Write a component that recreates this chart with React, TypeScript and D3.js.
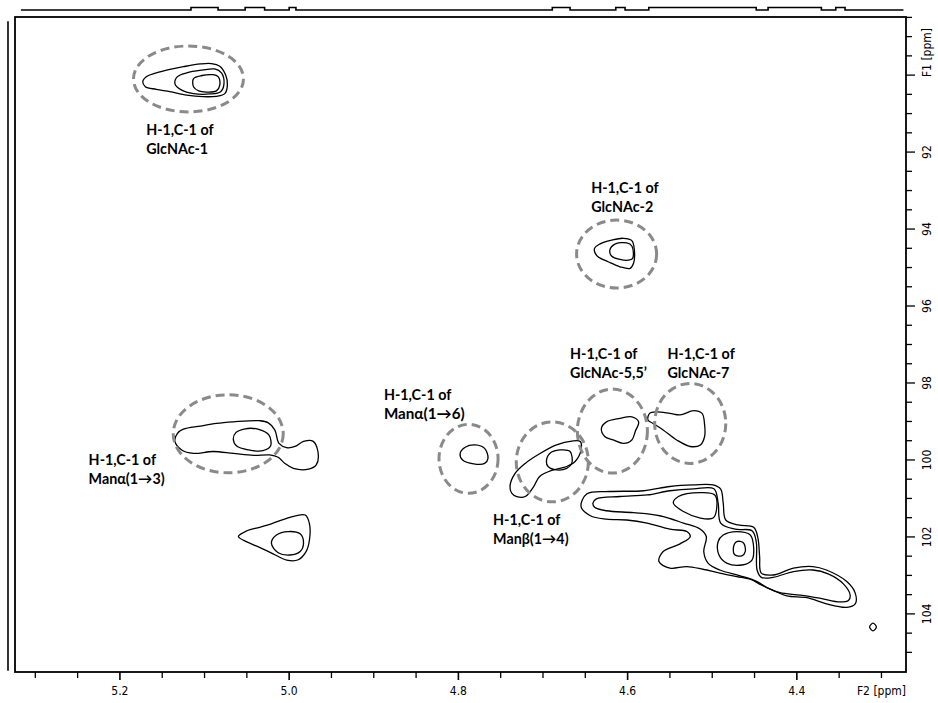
import React from "react";
import * as d3 from "d3";

const W = 938;
const H = 703;

// ---------- axis data ----------
const f2TickValues = d3.range(0, 21).map((i) => +(5.3 - i * 0.05).toFixed(2));
const f2LabelValues = [5.2, 5.0, 4.8, 4.6, 4.4];
const f2LabelTexts = ["5.2", "5.0", "4.8", "4.6", "4.4"];
const f2AxisTitle = "F2 [ppm]";
const f2AxisTitlePos = 4.3;
const f1TickValues = d3.range(0, 34).map((i) => 88.5 + i * 0.5);
const f1LabelValues = [92, 94, 96, 98, 100, 102, 104];
const f1LabelTexts = ["92", "94", "96", "98", "100", "102", "104"];
const f1AxisTitle = "F1 [ppm]";
const f1AxisTitlePos = 90;

// ---------- 1D projection (F2, top) : raised segments [start, end] ppm ----------
const f2ProjectionRange = [5.317, 4.274];
const f2ProjectionPeaks: [number, number][] = [
  [5.116, 5.084], [5.052, 5.029], [5.0, 4.992], [4.689, 4.668],
  [4.614, 4.603], [4.575, 4.448], [4.434, 4.371], [4.354, 4.343],
];
const f1ProjectionRange = [88.6, 105.48];

// ---------- contour data [H ppm, C ppm] ----------
const glcnac1Outer: [number, number][] = [
  [5.173, 90.17], [5.168, 90.03], [5.157, 89.94], [5.141, 89.85], [5.125, 89.78], [5.105, 89.71],
  [5.092, 89.70], [5.082, 89.77], [5.075, 90.0], [5.073, 90.26], [5.076, 90.48], [5.086, 90.55],
  [5.102, 90.56], [5.121, 90.52], [5.141, 90.43], [5.157, 90.37], [5.170, 90.30],
];
const glcnac1Mid: [number, number][] = [
  [5.135, 90.22], [5.132, 90.04], [5.121, 89.94], [5.103, 89.87], [5.088, 89.84], [5.080, 89.94],
  [5.077, 90.22], [5.081, 90.43], [5.094, 90.49], [5.113, 90.48], [5.127, 90.39],
];
const glcnac1Inner: [number, number][] = [
  [5.113, 90.09], [5.103, 90.01], [5.090, 89.99], [5.084, 90.04], [5.082, 90.26],
  [5.086, 90.41], [5.098, 90.44], [5.107, 90.41], [5.113, 90.30],
];
const glcnac2Outer: [number, number][] = [
  [4.639, 94.5], [4.633, 94.39], [4.619, 94.29], [4.605, 94.24], [4.595, 94.3], [4.592, 94.55],
  [4.593, 94.89], [4.597, 95.02], [4.609, 94.98], [4.623, 94.85], [4.635, 94.72], [4.639, 94.59],
];
const glcnac2Inner: [number, number][] = [
  [4.621, 94.55], [4.615, 94.39], [4.601, 94.36], [4.595, 94.44], [4.594, 94.76],
  [4.599, 94.81], [4.609, 94.79], [4.619, 94.70],
];
const man13Outer: [number, number][] = [
  [5.135, 99.51], [5.132, 99.31], [5.125, 99.2], [5.105, 99.12], [5.086, 99.05], [5.066, 99.01],
  [5.035, 98.98], [5.025, 99.03], [5.017, 99.22], [5.012, 99.57], [5.003, 99.68], [4.993, 99.65],
  [4.983, 99.52], [4.972, 99.51], [4.966, 99.78], [4.968, 100.13], [4.977, 100.24], [4.995, 100.22],
  [5.005, 100.09], [5.013, 99.93], [5.023, 99.87], [5.042, 99.88], [5.066, 99.83], [5.090, 99.78],
  [5.113, 99.83], [5.127, 99.74],
];
const man13Inner: [number, number][] = [
  [5.066, 99.46], [5.063, 99.29], [5.052, 99.19], [5.037, 99.2], [5.024, 99.35],
  [5.022, 99.64], [5.031, 99.76], [5.048, 99.74], [5.062, 99.64],
];
const peak5023Outer: [number, number][] = [
  [5.06, 101.99], [5.05, 101.84], [5.035, 101.75], [5.021, 101.66], [4.999, 101.49], [4.981, 101.43],
  [4.976, 101.66], [4.976, 102.08], [4.98, 102.38], [4.99, 102.6], [5.003, 102.6], [5.019, 102.44],
  [5.035, 102.27], [5.05, 102.13],
];
const peak5023Inner: [number, number][] = [
  [5.021, 102.16], [5.015, 101.95], [5.001, 101.86], [4.987, 101.92], [4.983, 102.16],
  [4.987, 102.38], [4.999, 102.47], [5.013, 102.41],
];
const man16Contour: [number, number][] = [
  [4.798, 99.84], [4.792, 99.67], [4.78, 99.61], [4.769, 99.7], [4.765, 99.96],
  [4.769, 100.09], [4.782, 100.1], [4.795, 100.0],
];
const man14Outer: [number, number][] = [
  [4.737, 100.86], [4.739, 100.68], [4.733, 100.35], [4.721, 100.09], [4.704, 99.84], [4.684, 99.61],
  [4.666, 99.51], [4.656, 99.52], [4.655, 99.74], [4.662, 100.04], [4.672, 100.17], [4.688, 100.26],
  [4.704, 100.43], [4.711, 100.69], [4.721, 100.95], [4.731, 100.95],
];
const man14Inner: [number, number][] = [
  [4.696, 100.04], [4.692, 99.83], [4.68, 99.74], [4.668, 99.78], [4.666, 100.09],
  [4.672, 100.22], [4.684, 100.26], [4.694, 100.17],
];
const glcnac5Contour: [number, number][] = [
  [4.631, 99.18], [4.625, 99.01], [4.609, 98.92], [4.595, 98.88], [4.587, 99.01],
  [4.591, 99.26], [4.595, 99.48], [4.605, 99.57], [4.617, 99.48], [4.627, 99.39],
];
const glcnac7Contour: [number, number][] = [
  [4.576, 98.96], [4.574, 98.79], [4.566, 98.75], [4.55, 98.79], [4.538, 98.83], [4.522, 98.72],
  [4.512, 98.79], [4.509, 99.09], [4.509, 99.39], [4.514, 99.61], [4.526, 99.65], [4.542, 99.48],
  [4.558, 99.22], [4.57, 99.05],
];
const clusterLevel1: [number, number][] = [
  [4.655, 101.21], [4.648, 100.88], [4.621, 100.82], [4.581, 100.8], [4.55, 100.69], [4.522, 100.65],
  [4.499, 100.65], [4.49, 100.76], [4.487, 101.12], [4.484, 101.56], [4.469, 101.69], [4.451, 101.75],
  [4.446, 102.03], [4.444, 102.51], [4.442, 102.94], [4.428, 102.99], [4.404, 102.81], [4.381, 102.77],
  [4.365, 102.86], [4.341, 103.16], [4.331, 103.46], [4.331, 103.74], [4.341, 103.83], [4.365, 103.74],
  [4.388, 103.58], [4.412, 103.53], [4.428, 103.39], [4.442, 103.25], [4.455, 103.1], [4.471, 103.03],
  [4.491, 102.94], [4.511, 102.84], [4.53, 102.77], [4.55, 102.81], [4.563, 102.64], [4.558, 102.38],
  [4.538, 102.18], [4.526, 101.99], [4.53, 101.86], [4.55, 101.8], [4.577, 101.64], [4.601, 101.56],
  [4.625, 101.54], [4.644, 101.45],
];
const clusterLevel2: [number, number][] = [
  [4.641, 101.12], [4.637, 101.01], [4.609, 100.95], [4.577, 100.91], [4.55, 100.8], [4.522, 100.75],
  [4.498, 100.75], [4.493, 101.12], [4.49, 101.64], [4.473, 101.8], [4.453, 101.84], [4.448, 102.12],
  [4.447, 102.86], [4.442, 103.05], [4.428, 103.05], [4.404, 102.9], [4.381, 102.86], [4.363, 102.96],
  [4.345, 103.22], [4.337, 103.51], [4.339, 103.65], [4.349, 103.69], [4.373, 103.59], [4.396, 103.51],
  [4.42, 103.45], [4.436, 103.31], [4.447, 103.16], [4.467, 103.01], [4.491, 102.86], [4.505, 102.68],
  [4.51, 102.38], [4.507, 101.99], [4.514, 101.8], [4.534, 101.64], [4.562, 101.45], [4.593, 101.37],
  [4.625, 101.32], [4.639, 101.23],
];
const clusterUpperLobe: [number, number][] = [
  [4.546, 101.12], [4.54, 100.95], [4.514, 100.85], [4.497, 100.91], [4.495, 101.3],
  [4.499, 101.51], [4.514, 101.51], [4.534, 101.34],
];
const clusterCenterRing: [number, number][] = [
  [4.493, 102.12], [4.487, 101.95], [4.471, 101.86], [4.455, 101.95], [4.451, 102.29],
  [4.453, 102.6], [4.465, 102.73], [4.483, 102.68], [4.492, 102.47],
];
const clusterCenterCore: [number, number][] = [
  [4.475, 102.29], [4.471, 102.12], [4.463, 102.16], [4.461, 102.38], [4.465, 102.49], [4.473, 102.47],
];
const noiseSpot: [number, number][] = [
  [4.314, 104.34], [4.31, 104.24], [4.306, 104.34], [4.31, 104.44],
];

const contours = [
  glcnac1Outer, glcnac1Mid, glcnac1Inner, glcnac2Outer, glcnac2Inner,
  man13Outer, man13Inner, peak5023Outer, peak5023Inner, man16Contour,
  man14Outer, man14Inner, glcnac5Contour, glcnac7Contour,
  clusterLevel1, clusterLevel2, clusterUpperLobe, clusterCenterRing, clusterCenterCore, noiseSpot,
];

// ---------- assignment circles ----------
const circleNames = ["GlcNAc-1", "GlcNAc-2", "Manα(1→3)", "Manα(1→6)", "Manβ(1→4)", "GlcNAc-5,5’", "GlcNAc-7"];
const circleCenterH = [5.119, 4.613, 5.072, 4.788, 4.689, 4.618, 4.526];
const circleCenterC = [90.1, 94.65, 99.32, 99.97, 100.05, 99.25, 99.05];
const circleHalfH = [0.065, 0.0473, 0.065, 0.0349, 0.0426, 0.0414, 0.042];
const circleHalfC = [0.857, 0.883, 1.013, 0.896, 1.039, 1.091, 1.039];

// ---------- annotation labels ----------
const labelLine1 = ["H-1,C-1 of", "H-1,C-1 of", "H-1,C-1 of", "H-1,C-1 of", "H-1,C-1 of", "H-1,C-1 of", "H-1,C-1 of"];
const labelLine2 = ["GlcNAc-1", "GlcNAc-2", "Manα(1→3)", "Manα(1→6)", "Manβ(1→4)", "GlcNAc-5,5’", "GlcNAc-7"];
const labelH = [5.169, 4.643, 5.237, 4.888, 4.759, 4.668, 4.553];
const labelC = [91.56, 93.06, 100.13, 98.44, 101.69, 97.38, 97.38];
const labelLine2Big = [false, false, false, true, false, false, false];

export default function App() {
  const x = d3.scaleLinear().domain([5.324, 4.271]).range([15, 906]);
  const y = d3.scaleLinear().domain([88.49, 105.51]).range([17, 672]);
  const yProj = d3.scaleLinear().domain([0, 1]).range([10, 7.5]);

  const line = d3
    .line<[number, number]>()
    .x((d) => x(d[0]))
    .y((d) => y(d[1]))
    .curve(d3.curveCatmullRomClosed.alpha(0.5));

  // projection path
  const projPts: [number, number][] = [[x(f2ProjectionRange[0]), yProj(0)]];
  f2ProjectionPeaks.forEach(([a, b]) => {
    projPts.push([x(a), yProj(0)], [x(a), yProj(1)], [x(b), yProj(1)], [x(b), yProj(0)]);
  });
  projPts.push([x(f2ProjectionRange[1]), yProj(0)]);
  const projPath = d3.line()(projPts) || "";

  const x0 = x.range()[0];
  const x1 = x.range()[1];
  const y0 = y.range()[0];
  const y1 = y.range()[1];

  const tickFont = "'Liberation Sans Narrow', 'DejaVu Sans Condensed', Arial, sans-serif";
  const labelFont = "Lato, Carlito, Calibri, 'Open Sans', sans-serif";

  return (
    <svg
      width={W}
      height={H}
      viewBox={`0 0 ${W} ${H}`}
      style={{ position: "absolute", left: 0, top: 0, background: "#fff" }}
    >
      <rect x={0} y={0} width={W} height={H} fill="#fff" />
      {/* projections */}
      <path d={projPath} fill="none" stroke="#000" strokeWidth={1.6} />
      <line x1={8} x2={8} y1={y(f1ProjectionRange[0])} y2={y(f1ProjectionRange[1])} stroke="#000" strokeWidth={1.6} />

      {/* frame */}
      <rect x={x0} y={y0} width={x1 - x0} height={y1 - y0} fill="none" stroke="#000" strokeWidth={1.8} />

      {/* bottom ticks */}
      {f2TickValues.map((v) => {
        const major = f2LabelValues.some((l) => Math.abs(l - v) < 1e-6);
        return (
          <line key={"bt" + v} x1={x(v)} x2={x(v)} y1={y1} y2={y1 + (major ? 8 : 6)} stroke="#000" strokeWidth={major ? 1.6 : 1.3} />
        );
      })}
      {f2LabelValues.map((v, i) => (
        <text key={"bl" + v} x={x(v)} y={y1 + 23} textAnchor="middle" fontFamily={tickFont} fontSize={12} fill="#000">
          {f2LabelTexts[i]}
        </text>
      ))}
      <text x={x(f2AxisTitlePos)} y={y1 + 23} textAnchor="middle" fontFamily={tickFont} fontSize={12} fill="#000">
        {f2AxisTitle}
      </text>

      {/* right ticks */}
      {f1TickValues.map((v) => {
        const major = f1LabelValues.includes(v) || v === f1AxisTitlePos;
        return (
          <line key={"rt" + v} x1={x1} x2={x1 + (major ? 9 : 6)} y1={y(v)} y2={y(v)} stroke="#000" strokeWidth={1.3} />
        );
      })}
      {f1LabelValues.map((v, i) => (
        <text
          key={"rl" + v}
          transform={`translate(${x1 + 25},${y(v)}) rotate(-90)`}
          textAnchor="middle"
          fontFamily={tickFont}
          fontSize={12}
          fill="#000"
        >
          {f1LabelTexts[i]}
        </text>
      ))}
      <text
        transform={`translate(${x1 + 25},${y(f1AxisTitlePos) + 2}) rotate(-90)`}
        textAnchor="start"
        fontFamily={tickFont}
        fontSize={12}
        fill="#000"
      >
        {f1AxisTitle}
      </text>

      {/* contours */}
      {contours.map((c, i) => (
        <path key={"c" + i} d={line(c) || ""} fill="none" stroke="#000" strokeWidth={1.3} />
      ))}

      {/* dashed assignment circles */}
      {circleNames.map((n, i) => {
        const cx = x(circleCenterH[i]);
        const cy = y(circleCenterC[i]);
        const rx = Math.abs(x(circleCenterH[i] + circleHalfH[i]) - cx);
        const ry = Math.abs(y(circleCenterC[i] + circleHalfC[i]) - cy);
        return (
          <ellipse key={"e" + n} cx={cx} cy={cy} rx={rx} ry={ry} fill="none" stroke="#8a8a8a" strokeWidth={3} strokeDasharray="9 5" />
        );
      })}

      {/* labels */}
      {labelLine1.map((t, i) => (
        <text key={"lab" + i} x={x(labelH[i])} y={y(labelC[i])} fontFamily={labelFont} fontWeight="bold" fontSize={14.3} fill="#000">
          <tspan x={x(labelH[i])}>{t}</tspan>
          <tspan x={x(labelH[i])} dy={19} fontSize={labelLine2Big[i] ? 15.2 : 14.3}>
            {labelLine2[i]}
          </tspan>
        </text>
      ))}
    </svg>
  );
}
